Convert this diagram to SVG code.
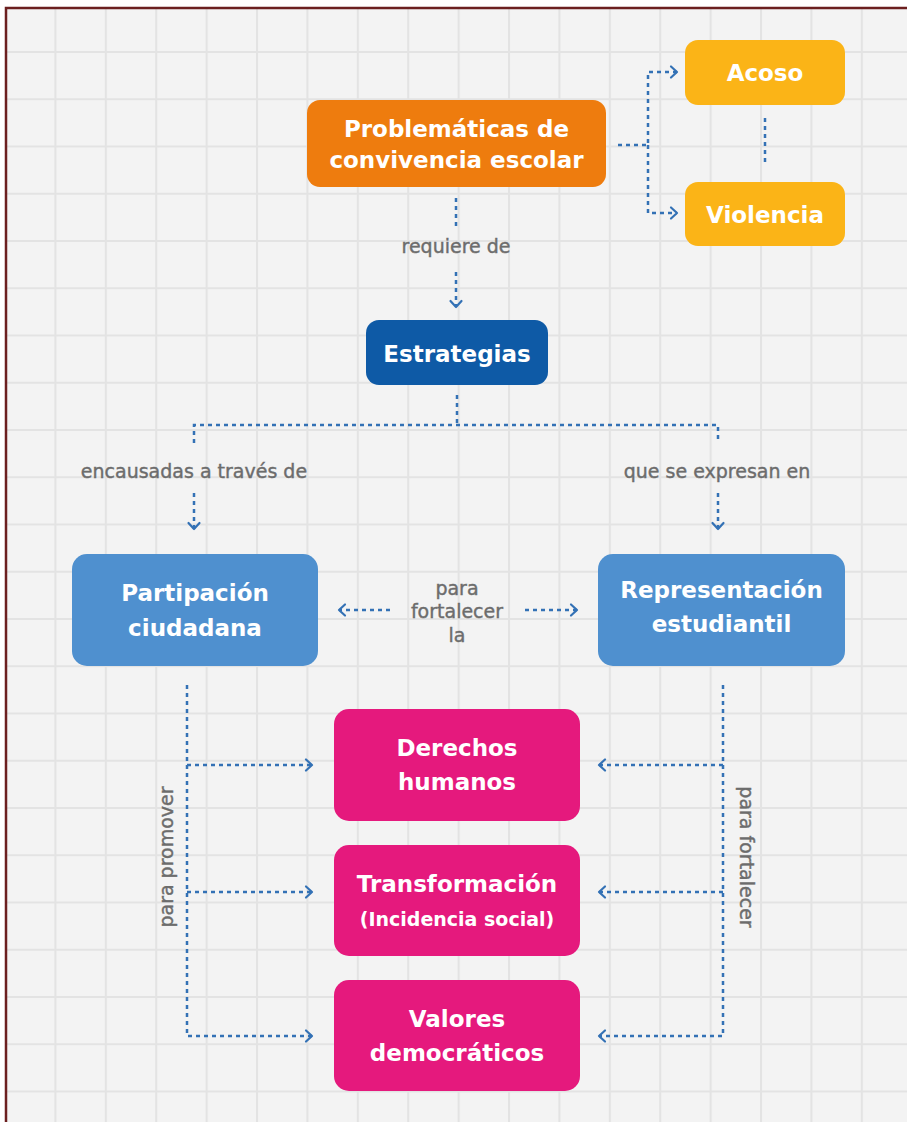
<svg xmlns="http://www.w3.org/2000/svg" width="907" height="1122" viewBox="0 0 907 1122">
<defs>
<pattern id="grid" patternUnits="userSpaceOnUse" x="4" y="3.75" width="50.4" height="47.25">
<rect width="50.4" height="47.25" fill="#f3f3f3"/>
<path d="M1,0 V47.25 M0,1 H50.4" stroke="#e3e3e3" stroke-width="2" fill="none"/>
</pattern>
<marker id="arr" markerUnits="userSpaceOnUse" markerWidth="12" markerHeight="14" refX="8" refY="7" orient="auto" overflow="visible">
<path d="M2,1.5 L8,7 L2,12.5" fill="none" stroke="#3371b5" stroke-width="2.2" stroke-linecap="round" stroke-linejoin="round"/>
</marker>
<style>
.ln{fill:none;stroke:#3371b5;stroke-width:2.5;stroke-dasharray:4 4}
.nt{font-family:"DejaVu Sans","Liberation Sans",sans-serif;font-weight:bold;font-size:23px;fill:#ffffff;text-anchor:middle}
.lb{font-family:"DejaVu Sans","Liberation Sans",sans-serif;font-size:19px;fill:#6c6c6c;stroke:#6c6c6c;stroke-width:0.4;text-anchor:middle}
</style>
</defs>
<rect x="0" y="0" width="907" height="1122" fill="#ffffff"/>
<rect x="6" y="8" width="901" height="1114" fill="url(#grid)"/>
<path d="M6,1122 V8 H907" fill="none" stroke="#6b1f1f" stroke-width="2.5"/>

<g id="connectors">
<path class="ln" d="M618,145 H648 V72 H677" marker-end="url(#arr)"/>
<path class="ln" d="M648,145 V213 H677" marker-end="url(#arr)"/>
<path class="ln" d="M765,118 V166"/>
<path class="ln" d="M456,198 V228"/>
<path class="ln" d="M456,272 V307" marker-end="url(#arr)"/>
<path class="ln" d="M457,395 V425"/>
<path class="ln" d="M194,443 V425 H718 V443"/>
<path class="ln" d="M194,493 V529" marker-end="url(#arr)"/>
<path class="ln" d="M718,493 V529" marker-end="url(#arr)"/>
<path class="ln" d="M390,610 H339" marker-end="url(#arr)"/>
<path class="ln" d="M525,610 H577" marker-end="url(#arr)"/>
<path class="ln" d="M187,685 V1036 H312" marker-end="url(#arr)"/>
<path class="ln" d="M187,765 H312" marker-end="url(#arr)"/>
<path class="ln" d="M187,892 H312" marker-end="url(#arr)"/>
<path class="ln" d="M723,685 V1036 H599" marker-end="url(#arr)"/>
<path class="ln" d="M723,765 H599" marker-end="url(#arr)"/>
<path class="ln" d="M723,892 H599" marker-end="url(#arr)"/>
<text class="lb" x="456" y="253">requiere de</text>
<text class="lb" x="194" y="478">encausadas a través de</text>
<text class="lb" x="717" y="478">que se expresan en</text>
<text class="lb" x="457" y="595">para</text>
<text class="lb" x="457" y="618">fortalecer</text>
<text class="lb" x="457" y="642">la</text>
<text class="lb" transform="translate(173,857) rotate(-90)">para promover</text>
<text class="lb" transform="translate(740,857) rotate(90)">para fortalecer</text>
</g>

<g id="problematicas">
<rect x="307" y="100" width="299" height="87" rx="13" fill="#ee7c0e"/>
<text class="nt" x="456.5" y="137">Problemáticas de</text>
<text class="nt" x="456.5" y="168">convivencia escolar</text>
</g>
<g id="acoso">
<rect x="685" y="40" width="160" height="65" rx="13" fill="#fbb417"/>
<text class="nt" x="765" y="81">Acoso</text>
</g>
<g id="violencia">
<rect x="685" y="182" width="160" height="64" rx="13" fill="#fbb417"/>
<text class="nt" x="765" y="223">Violencia</text>
</g>
<g id="estrategias">
<rect x="366" y="320" width="182" height="65" rx="13" fill="#0e5aa6"/>
<text class="nt" x="457" y="362">Estrategias</text>
</g>
<g id="participacion">
<rect x="72" y="554" width="246" height="112" rx="15" fill="#4f90cf"/>
<text class="nt" x="195" y="601">Partipación</text>
<text class="nt" x="195" y="636">ciudadana</text>
</g>
<g id="representacion">
<rect x="598" y="554" width="247" height="112" rx="15" fill="#4f90cf"/>
<text class="nt" x="721.5" y="598">Representación</text>
<text class="nt" x="721.5" y="632">estudiantil</text>
</g>
<g id="derechos">
<rect x="334" y="709" width="246" height="112" rx="15" fill="#e5197d"/>
<text class="nt" x="457" y="756">Derechos</text>
<text class="nt" x="457" y="790">humanos</text>
</g>
<g id="transformacion">
<rect x="334" y="845" width="246" height="111" rx="15" fill="#e5197d"/>
<text class="nt" x="457" y="892">Transformación</text>
<text class="nt" x="457" y="926" style="font-size:19px">(Incidencia social)</text>
</g>
<g id="valores">
<rect x="334" y="980" width="246" height="111" rx="15" fill="#e5197d"/>
<text class="nt" x="457" y="1027">Valores</text>
<text class="nt" x="457" y="1061">democráticos</text>
</g>
</svg>
